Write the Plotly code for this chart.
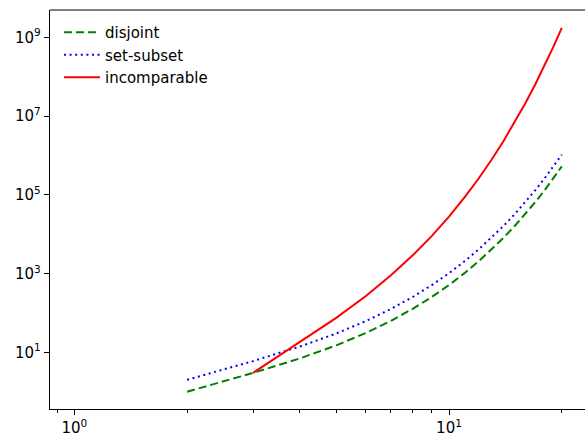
import plotly.graph_objects as go

n_pairs = list(range(2, 21))
disjoint = [1, 3, 7, 15, 31, 63, 127, 255, 511, 1023, 2047, 4095, 8191, 16383,
            32767, 65535, 131071, 262143, 524287]
set_subset = [2, 6, 14, 30, 62, 126, 254, 510, 1022, 2046, 4094, 8190, 16382,
              32766, 65534, 131070, 262142, 524286, 1048574]
n_incomp = list(range(3, 21))
incomparable = [3, 18, 75, 270, 903, 2898, 9075, 27990, 85503, 259578, 784875,
                2366910, 7125303, 21425058, 64373475, 193317030, 580344303,
                1741819338]

x_major = [1, 10]
x_major_text = ["10<sup>0</sup>", "10<sup>1</sup>"]
x_minor = [0.9, 2, 3, 4, 5, 6, 7, 8, 9, 20]
y_major = [1e1, 1e3, 1e5, 1e7, 1e9]
y_major_text = ["10<sup>1</sup>", "10<sup>3</sup>", "10<sup>5</sup>",
                "10<sup>7</sup>", "10<sup>9</sup>"]

fig = go.Figure()
fig.add_trace(go.Scatter(x=n_pairs, y=disjoint, mode="lines", name="disjoint",
                         line=dict(color="green", width=2, dash="8px,4px")))
fig.add_trace(go.Scatter(x=n_pairs, y=set_subset, mode="lines", name="set-subset",
                         line=dict(color="blue", width=2, dash="2px,3.6px")))
fig.add_trace(go.Scatter(x=n_incomp, y=incomparable, mode="lines", name="incomparable",
                         line=dict(color="red", width=2)))

axis_common = dict(showgrid=False, zeroline=False, showline=True, linecolor="black",
                   linewidth=1.2, ticks="outside", ticklen=5, tickwidth=1,
                   tickcolor="black", automargin=False,
                   tickfont=dict(family="DejaVu Sans", size=15, color="black"))

fig.update_layout(
    width=585, height=434,
    margin=dict(l=50, r=0, t=10, b=25),
    plot_bgcolor="white", paper_bgcolor="white",
    font=dict(family="DejaVu Sans", size=15, color="black"),
    showlegend=True,
    legend=dict(x=0.0168, y=0.985, xanchor="left", yanchor="top",
                bgcolor="rgba(255,255,255,0)", font=dict(size=15),
                tracegroupgap=0, itemwidth=36),
    xaxis=dict(type="log", range=[-0.065, 1.363], tickvals=x_major,
               ticktext=x_major_text,
               minor=dict(tickvals=x_minor, ticks="outside", ticklen=3,
                          tickwidth=1, tickcolor="black", showgrid=False),
               **axis_common),
    yaxis=dict(type="log", range=[-0.44, 9.693], tickvals=y_major,
               ticktext=y_major_text, **axis_common),
)
fig.add_shape(type="line", xref="paper", yref="paper", x0=0, x1=1, y0=1, y1=1,
              line=dict(color="black", width=1.2))

fig.write_html("out.html", config={"displayModeBar": False, "staticPlot": True})

with open("out.html", "r", encoding="utf-8") as f:
    html = f.read()
html = html.replace("<body>", '<body style="margin:0;padding:0;overflow:hidden">', 1)
with open("out.html", "w", encoding="utf-8") as f:
    f.write(html)
